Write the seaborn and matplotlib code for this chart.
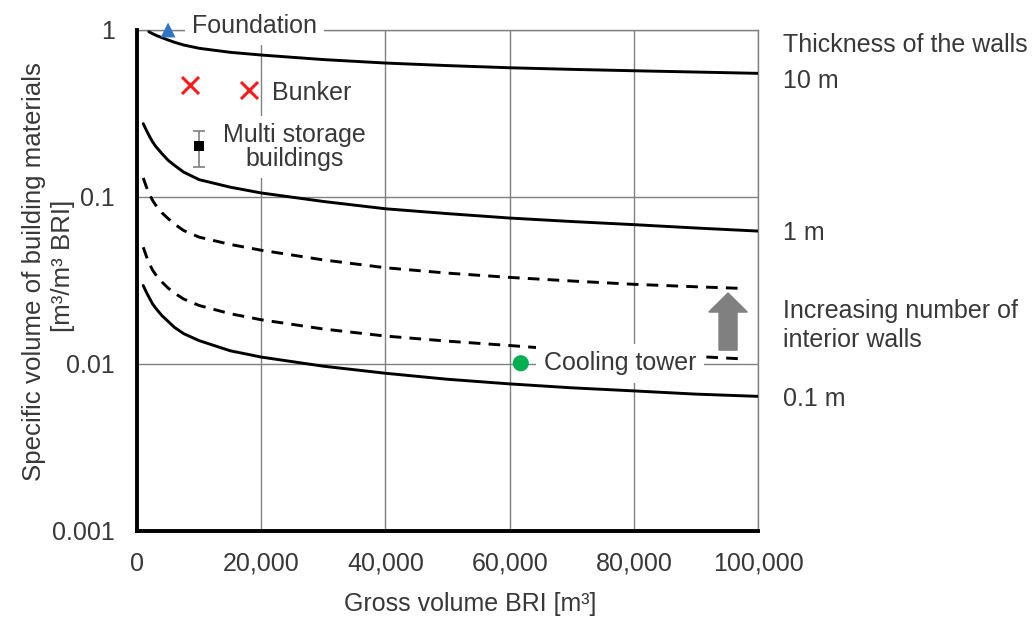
import numpy as np
import pandas as pd
import matplotlib
matplotlib.use("Agg")
import matplotlib.pyplot as plt
from matplotlib.patches import FancyArrow
from matplotlib.transforms import blended_transform_factory
import seaborn as sns

# ---------------- data ----------------
x_ticks = [0, 20000, 40000, 60000, 80000, 100000]
x_tick_labels = ["0", "20,000", "40,000", "60,000", "80,000", "100,000"]
y_ticks = [0.001, 0.01, 0.1, 1]
y_tick_labels = ["0.001", "0.01", "0.1", "1"]

x_10m = [1900, 2500, 3200, 4000, 5000, 6000, 7500, 10000, 15000, 20000, 30000, 40000, 50000, 60000, 70000, 80000, 90000, 100000]
y_10m = [0.977, 0.950, 0.924, 0.900, 0.871, 0.845, 0.813, 0.777, 0.735, 0.708, 0.665, 0.634, 0.612, 0.594, 0.581, 0.570, 0.560, 0.550]

x_1m = [1000, 1500, 2000, 2500, 3000, 4000, 5000, 6000, 7500, 10000, 15000, 20000, 30000, 40000, 50000, 60000, 70000, 80000, 90000, 100000]
y_1m = [0.275, 0.251, 0.231, 0.214, 0.201, 0.182, 0.166, 0.155, 0.141, 0.127, 0.1145, 0.1057, 0.094, 0.085, 0.0795, 0.0748, 0.0713, 0.0683, 0.0652, 0.0625]

x_int_hi = [1000, 1500, 2000, 2500, 3000, 4000, 5000, 6000, 7500, 10000, 15000, 20000, 30000, 40000, 50000, 60000, 70000, 80000, 90000, 98000]
y_int_hi = [0.130, 0.115, 0.1035, 0.0955, 0.0895, 0.0805, 0.0743, 0.069, 0.063, 0.0575, 0.052, 0.048, 0.042, 0.0377, 0.035, 0.033, 0.0314, 0.030, 0.029, 0.0283]

x_int_lo = [1000, 1500, 2000, 2500, 3000, 4000, 5000, 6000, 7500, 10000, 15000, 20000, 30000, 40000, 50000, 60000, 70000, 80000, 90000, 98000]
y_int_lo = [0.050, 0.0442, 0.0398, 0.0365, 0.0343, 0.031, 0.0285, 0.0266, 0.0245, 0.0224, 0.0200, 0.0184, 0.0162, 0.0147, 0.0137, 0.0129, 0.0121, 0.0116, 0.0111, 0.0107]

x_01m = [1000, 1500, 2000, 2500, 3000, 4000, 5000, 6000, 7500, 10000, 15000, 20000, 30000, 40000, 50000, 60000, 70000, 80000, 90000, 100000]
y_01m = [0.0295, 0.0269, 0.0248, 0.0229, 0.0216, 0.0195, 0.0180, 0.0166, 0.0152, 0.0138, 0.0120, 0.0110, 0.0097, 0.0088, 0.0081, 0.0076, 0.0072, 0.0069, 0.0066, 0.0064]

foundation_x = [5000]
foundation_y = [1.0]
bunker_x = [8500, 18000]
bunker_y = [0.468, 0.437]
multi_x = [10000]
multi_y = [0.202]
multi_lo = [0.151]
multi_hi = [0.248]
cooling_x = [61800]
cooling_y = [0.0101]

# ---------------- style ----------------
sns.set_theme(style="white")
plt.rcParams["font.family"] = ["Liberation Sans", "DejaVu Sans"]
TXT = "#383838"
FS = 18

fig = plt.figure(figsize=(10.35, 6.17), dpi=100)
ax = fig.add_axes([0.1324, 0.1394, 0.6, 0.812])
ax.set_yscale("log")
ax.set_xlim(0, 100000)
ax.set_ylim(0.001, 1)

# grid / ticks
ax.set_xticks(x_ticks)
ax.set_xticklabels(x_tick_labels)
ax.set_yticks(y_ticks)
ax.set_yticklabels(y_tick_labels)
ax.yaxis.set_minor_locator(matplotlib.ticker.NullLocator())
ax.grid(True, which="major", color="#808080", linewidth=1.0)
ax.tick_params(axis="both", length=0, labelsize=FS, labelcolor=TXT)
ax.tick_params(axis="x", pad=15)
ax.tick_params(axis="y", pad=16)

for side in ["top", "right"]:
    ax.spines[side].set_color("#808080")
    ax.spines[side].set_linewidth(1.0)
for side in ["left", "bottom"]:
    ax.spines[side].set_color("black")
    ax.spines[side].set_linewidth(2.8)
    ax.spines[side].set_zorder(5)

# curves
solid = dict(color="black", linewidth=2.1, estimator=None, sort=False, zorder=4)
dashed = dict(color="black", linewidth=2.1, estimator=None, sort=False, zorder=2.2,
              linestyle=(0, (4, 2.8)))
sns.lineplot(x=x_10m, y=y_10m, ax=ax, **solid)
sns.lineplot(x=x_1m, y=y_1m, ax=ax, **solid)
sns.lineplot(x=x_01m, y=y_01m, ax=ax, **solid)
sns.lineplot(x=x_int_hi, y=y_int_hi, ax=ax, **dashed)
sns.lineplot(x=x_int_lo, y=y_int_lo, ax=ax, **dashed)

# points
sns.scatterplot(x=foundation_x, y=foundation_y, ax=ax, marker="^", s=115,
                color="#2e75c6", edgecolor="none", zorder=6, clip_on=False)
sns.scatterplot(x=bunker_x, y=bunker_y, ax=ax, marker="x", s=150,
                color="#ff1a1a", linewidth=2.2, zorder=6)
ax.errorbar(multi_x, multi_y,
            yerr=[np.array(multi_y) - np.array(multi_lo), np.array(multi_hi) - np.array(multi_y)],
            fmt="none", ecolor="#7f7f7f", elinewidth=1.2, capsize=4.5, capthick=1.2, zorder=6)
sns.scatterplot(x=multi_x, y=multi_y, ax=ax, marker="s", s=55, color="black",
                edgecolor="none", zorder=7)
sns.scatterplot(x=cooling_x, y=cooling_y, ax=ax, marker="o", s=135, color="#00b050",
                edgecolor="none", zorder=6)

# annotations inside plot (white boxes)
bt = blended_transform_factory(ax.transData, ax.transAxes)
box = dict(facecolor="white", edgecolor="none", boxstyle="square,pad=0.28")
ax.text(8860, 0.994, "Foundation", fontsize=FS, color=TXT, ha="left", va="baseline",
        bbox=box, zorder=3, clip_on=False, transform=bt)
ax.text(21800, 0.860, "Bunker", fontsize=FS, color=TXT, ha="left", va="baseline",
        bbox=dict(facecolor="white", edgecolor="none", boxstyle="square,pad=0.1"),
        zorder=3, transform=bt)
ax.text(25400, 0.199, "Multi storage\nbuildings", fontsize=FS, color=TXT, ha="center",
        va="center", linespacing=0.98, bbox=box, zorder=3)
ax.text(65500, 0.0101, "Cooling tower", fontsize=FS, color=TXT, ha="left", va="center",
        bbox=dict(facecolor="white", edgecolor="none", boxstyle="square,pad=0.3"), zorder=3)

# arrow (increasing interior walls)
arrow = FancyArrow(0.9517, 0.361, 0.0, 0.114, width=0.029, head_width=0.062,
                   head_length=0.038, length_includes_head=True,
                   transform=ax.transAxes, color="#808080", zorder=5, clip_on=False)
ax.add_patch(arrow)

# right-side labels (baselines in figure pixels)
def fig_text(xpx, ypx_base, s, **kw):
    fig.text(xpx / 1035, 1 - ypx_base / 617, s, fontsize=FS, color=TXT,
             ha="left", va="baseline", **kw)

fig_text(783, 52, "Thickness of the walls")
fig_text(783, 88, "10 m")
fig_text(783, 240, "1 m")
fig_text(783, 318, "Increasing number of")
fig_text(783, 347, "interior walls")
fig_text(783, 406, "0.1 m")

# axis labels
fig.text(470 / 1035, 1 - 604 / 617, "Gross volume BRI [m³]", fontsize=FS, color=TXT,
         ha="center", va="center")
fig.text(34 / 1035, 1 - 272 / 617, "Specific volume of building materials",
         fontsize=18.6, color=TXT, ha="center", va="center", rotation=90)
fig.text(63 / 1035, 1 - 266 / 617, "[m³/m³ BRI]",
         fontsize=18.6, color=TXT, ha="center", va="center", rotation=90)

fig.savefig("out.png", dpi=100)
